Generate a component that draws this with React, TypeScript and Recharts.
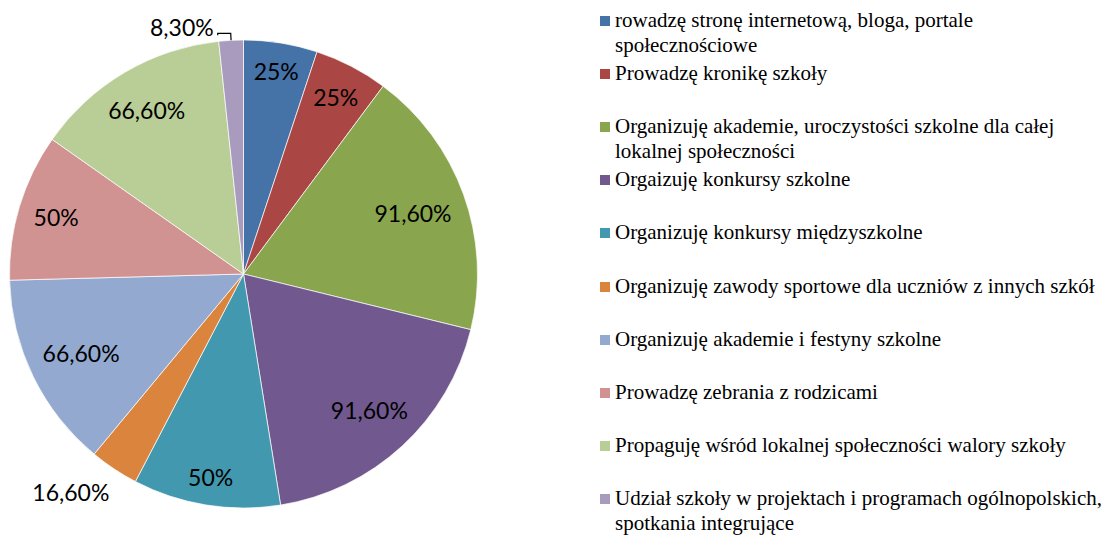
import React from 'react';
import { PieChart, Pie, Cell, Legend } from 'recharts';

const categories = [
  'rowadzę stronę internetową, bloga, portale społecznościowe',
  'Prowadzę kronikę szkoły',
  'Organizuję akademie, uroczystości szkolne dla całej lokalnej społeczności',
  'Orgaizuję konkursy szkolne',
  'Organizuję konkursy międzyszkolne',
  'Organizuję zawody sportowe dla uczniów z innych szkół',
  'Organizuję akademie i festyny szkolne',
  'Prowadzę zebrania z rodzicami',
  'Propaguję wśród lokalnej społeczności walory szkoły',
  'Udział szkoły w projektach i programach ogólnopolskich, spotkania integrujące',
];

const values = [25, 25, 91.6, 91.6, 50, 16.6, 66.6, 50, 66.6, 8.3];

const colors = [
  '#4572A7', '#AA4643', '#89A54E', '#71588F', '#4198AF',
  '#DB843D', '#93A9CF', '#D19392', '#B9CD96', '#A99BBD',
];

const data = categories.map((name, i) => ({ name, value: values[i] }));

const RAD = Math.PI / 180;
const LABEL_FONT = 23;

const fmt = (v: number) =>
  Number.isInteger(v) ? `${v}%` : `${v.toFixed(2).replace('.', ',')}%`;

// rough text width for the label font
const textWidth = (s: string) =>
  s.split('').reduce((w, ch) => {
    if (ch === ',') return w + 0.26 * LABEL_FONT;
    if (ch === '%') return w + 0.82 * LABEL_FONT;
    return w + 0.58 * LABEL_FONT;
  }, 0);

const renderLabel = (props: any) => {
  const { cx, cy, midAngle, outerRadius, percent, value, index } = props;
  const text = fmt(value);
  const dx = Math.cos(-midAngle * RAD);
  const dy = Math.sin(-midAngle * RAD);
  const sweep = percent * 360;
  const halfW = textWidth(text) / 2;
  const halfH = 12;
  const style = { fontFamily: 'Lato, sans-serif', fontSize: LABEL_FONT, fill: '#000' };

  if (sweep >= 15) {
    const ext = Math.abs(dx) * halfW + Math.abs(dy) * halfH;
    const rr = outerRadius - 13 - ext;
    return (
      <text key={`l-${index}`} x={cx + dx * rr} y={cy + dy * rr}
        textAnchor="middle" dominantBaseline="central" style={style}>
        {text}
      </text>
    );
  }

  if (sweep < 8) {
    // tiny slice: leader line then label
    const sx = cx + dx * outerRadius;
    const sy = cy + dy * outerRadius;
    const ex = cx + dx * (outerRadius + 7);
    const ey = cy + dy * (outerRadius + 7);
    const side = dx < 0 ? -1 : 1;
    const hx = ex + side * 13;
    return (
      <g key={`l-${index}`}>
        <polyline points={`${sx},${sy} ${ex},${ey} ${hx},${ey} ${hx},${ey + 2}`}
          fill="none" stroke="#000" strokeWidth={1.2} />
        <text x={hx + side * 4} y={ey - 6} textAnchor={side < 0 ? 'end' : 'start'}
          dominantBaseline="central" style={style}>
          {text}
        </text>
      </g>
    );
  }

  const px = cx + dx * (outerRadius + 12);
  const py = cy + dy * (outerRadius + 12);
  return (
    <text key={`l-${index}`} x={px + 2} y={dy > 0 ? py + halfH + 1 : py - halfH}
      textAnchor={dx < 0 ? 'end' : 'start'} dominantBaseline="central" style={style}>
      {text}
    </text>
  );
};

const renderLegend = () => (
  <div style={{ position: 'relative', width: 1110, height: 535 }}>
    {categories.map((name, i) => (
      <div key={name} style={{
        position: 'absolute', left: 600, top: 20 + i * 53.2 - 12.5, width: 515,
        fontFamily: "'Liberation Serif', serif", fontSize: 21,
        lineHeight: '25px', color: '#000', textAlign: 'left',
      }}>
        <span style={{
          position: 'absolute', left: 0, top: 8, width: 10, height: 10,
          background: colors[i],
        }} />
        <div style={{ marginLeft: 15 }}>{name}</div>
      </div>
    ))}
  </div>
);

export default function App() {
  return (
    <div style={{ position: 'absolute', left: 0, top: 0, width: 1110, height: 535, overflow: 'hidden', background: '#fff' }}>
      <PieChart width={1110} height={535} margin={{ top: 0, right: 0, bottom: 0, left: 0 }}>
        <Pie
          data={data}
          dataKey="value"
          nameKey="name"
          cx={243.5}
          cy={274}
          outerRadius={234}
          startAngle={90}
          endAngle={-270}
          stroke="#fff"
          strokeWidth={0.7}
          label={renderLabel}
          labelLine={false}
          isAnimationActive={false}
        >
          {data.map((d, i) => (
            <Cell key={d.name} fill={colors[i]} />
          ))}
        </Pie>
        <Legend content={renderLegend} wrapperStyle={{ left: 0, top: 0, width: 1110, height: 535 }} />
      </PieChart>
    </div>
  );
}
